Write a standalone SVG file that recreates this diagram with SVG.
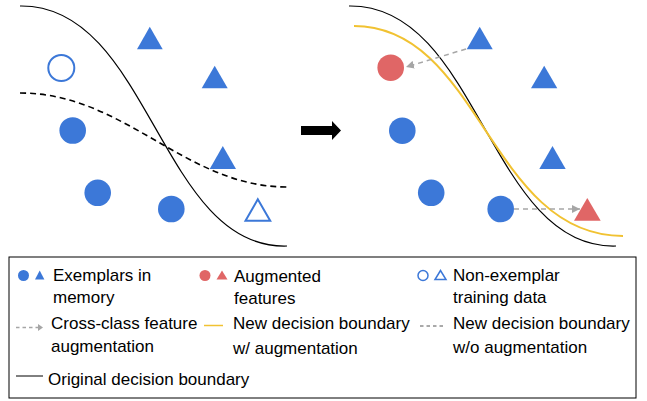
<svg xmlns="http://www.w3.org/2000/svg" width="647" height="401" viewBox="0 0 647 401">
<style>
.b{fill:#3c78d8}
.r{fill:#e06666}
.o{fill:none;stroke:#3c78d8;stroke-width:2}
.orig{fill:none;stroke:#000;stroke-width:1.2}
.nodash{fill:none;stroke:#000;stroke-width:1.6;stroke-dasharray:6 4}
.yel{fill:none;stroke:#f1c232;stroke-width:2}
.ga{fill:none;stroke:#a6a6a6;stroke-width:1.5;stroke-dasharray:5 4}
text{font-family:"Liberation Sans",Arial,sans-serif;font-size:17px;fill:#000}
</style>
<defs>
<marker id="ah" viewBox="0 0 10 10" refX="10" refY="5" markerWidth="8" markerHeight="8" markerUnits="userSpaceOnUse" orient="auto">
<path d="M0,0 L10,5 L0,10 z" fill="#a6a6a6"/>
</marker>
</defs>
<g id="connectors">
<path class="orig" d="M20,6 C150,4 160,250 287,246"/>
<path class="nodash" d="M20,93 C125,93 185,187 287,187"/>
<path class="orig" d="M349,6 C479,4 489,250 616,246"/>
<path class="yel" d="M354,26 C480,26 490,236 623,236"/>
<path class="ga" d="M466,49 L406,67" marker-end="url(#ah)"/>
<path class="ga" d="M514,209 L580,209" marker-end="url(#ah)"/>
<path id="bigarrow" d="M301,126 L332,126 L332,121 L341,130.5 L332,140 L332,135 L301,135 z" fill="#000"/>
</g>
<g id="left-points">
<polygon id="lt1" class="b" points="149.8,26.7 137,49.3 162.7,49.3"/>
<circle id="lc0" class="o" cx="61.3" cy="68" r="13"/>
<polygon id="lt2" class="b" points="214.7,65.7 201.7,88.3 227.7,88.3"/>
<circle id="lc1" class="b" cx="72.7" cy="130.5" r="13.3"/>
<polygon id="lt3" class="b" points="222.8,146 209.7,169 236,169"/>
<circle id="lc2" class="b" cx="97.7" cy="192.8" r="13.3"/>
<circle id="lc3" class="b" cx="171.3" cy="209" r="13.3"/>
<polygon id="lt4" class="o" points="257.8,199.3 245.5,220.7 270.2,220.7"/>
</g>
<g id="right-points">
<polygon id="rt1" class="b" points="479.7,26.7 466.7,49.3 492.7,49.3"/>
<circle id="rc0" class="r" cx="390.7" cy="67.7" r="13.3"/>
<polygon id="rt2" class="b" points="544.2,65.7 531,88.3 557.3,88.3"/>
<circle id="rc1" class="b" cx="402.3" cy="130.7" r="13.3"/>
<polygon id="rt3" class="b" points="552.5,146 539.3,169 565.7,169"/>
<circle id="rc2" class="b" cx="431.2" cy="192.8" r="13.3"/>
<circle id="rc3" class="b" cx="500.7" cy="209" r="13.3"/>
<polygon id="rt4" class="r" points="587.3,198 574,220.7 600.7,220.7"/>
</g>
<g id="legend">
<rect x="9" y="257" width="627" height="141" fill="none" stroke="#000" stroke-width="1"/>
<circle class="b" cx="23.5" cy="275.5" r="5.5"/>
<polygon class="b" points="39.7,270.5 35,279.5 44.4,279.5"/>
<text x="53" y="281">Exemplars in</text>
<text x="53" y="303">memory</text>
<circle class="r" cx="205" cy="275.5" r="5.5"/>
<polygon class="r" points="222,270.5 216.5,279.5 227.5,279.5"/>
<text x="234" y="282">Augmented</text>
<text x="234" y="304">features</text>
<circle class="o" cx="423" cy="275.5" r="5" style="stroke-width:1.5"/>
<polygon class="o" points="440.5,270.5 435,279.5 446,279.5" style="stroke-width:1.5"/>
<text x="453" y="281">Non-exemplar</text>
<text x="453" y="303">training data</text>
<path class="ga" d="M16,327.5 L38,327.5" style="stroke-dasharray:3.5 3"/>
<path d="M38,324 L43,327.5 L38,331 z" fill="#a6a6a6"/>
<text x="51" y="329">Cross-class feature</text>
<text x="51" y="352">augmentation</text>
<path d="M204,325.5 L223,325.5" stroke="#f1c232" stroke-width="1.5"/>
<text x="233" y="329">New decision boundary</text>
<text x="233" y="354">w/ augmentation</text>
<path d="M420,326 L444,326" stroke="#555" stroke-width="1" stroke-dasharray="3.5 3"/>
<text x="453" y="329">New decision boundary</text>
<text x="453" y="353">w/o augmentation</text>
<path d="M16,376 L43,376" stroke="#000" stroke-width="1"/>
<text x="48" y="385">Original decision boundary</text>
</g>
</svg>
